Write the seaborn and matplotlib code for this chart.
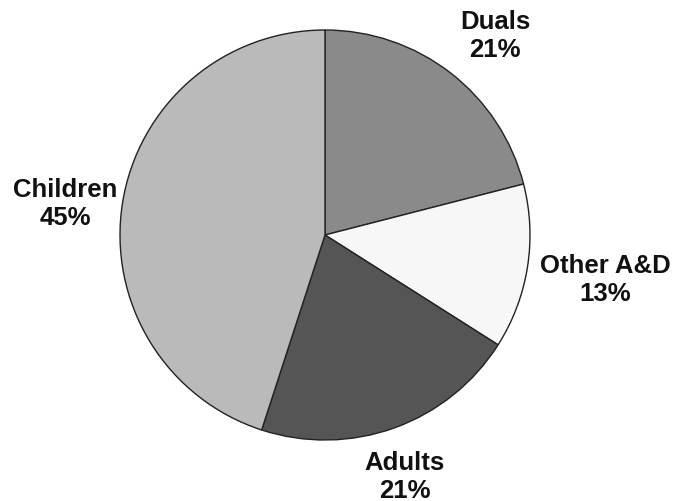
import matplotlib
matplotlib.use("Agg")
import matplotlib.pyplot as plt
import seaborn as sns

# Data
labels = ['Duals', 'Other A&D', 'Adults', 'Children']
shares = [21, 13, 21, 45]
colors = ['#8a8a8a', '#f7f7f7', '#555555', '#bababa']

sns.set_theme(style='white')
plt.rcParams['font.family'] = ['Liberation Sans', 'DejaVu Sans']

fig = plt.figure(figsize=(6.76, 5.02), dpi=100)
ax = fig.add_axes([0, 0, 1, 1])

wedges, _ = ax.pie(shares, colors=colors, startangle=90, counterclock=False,
                   radius=1.0, center=(0, 0),
                   wedgeprops=dict(edgecolor='#222222', linewidth=1.0))

# pie centre at pixel (325, 236), radius 205 px
r_px = 205.0
ax.set_xlim(-325 / r_px, (676 - 325) / r_px)
ax.set_ylim(-(502 - 236) / r_px, 236 / r_px)
ax.set_aspect('equal')
ax.axis('off')

# label block positions (data units)
label_pos = [(0.829, 0.976), (1.366, -0.215), (0.39, -1.176), (-1.268, 0.156)]
for lab, val, (x, y) in zip(labels, shares, label_pos):
    ax.text(x, y, f'{lab}\n{val}%', ha='center', va='center',
            fontsize=18.5, fontweight='bold', color='#111111', linespacing=1.2)

fig.savefig('out.png', dpi=100, facecolor='white')
